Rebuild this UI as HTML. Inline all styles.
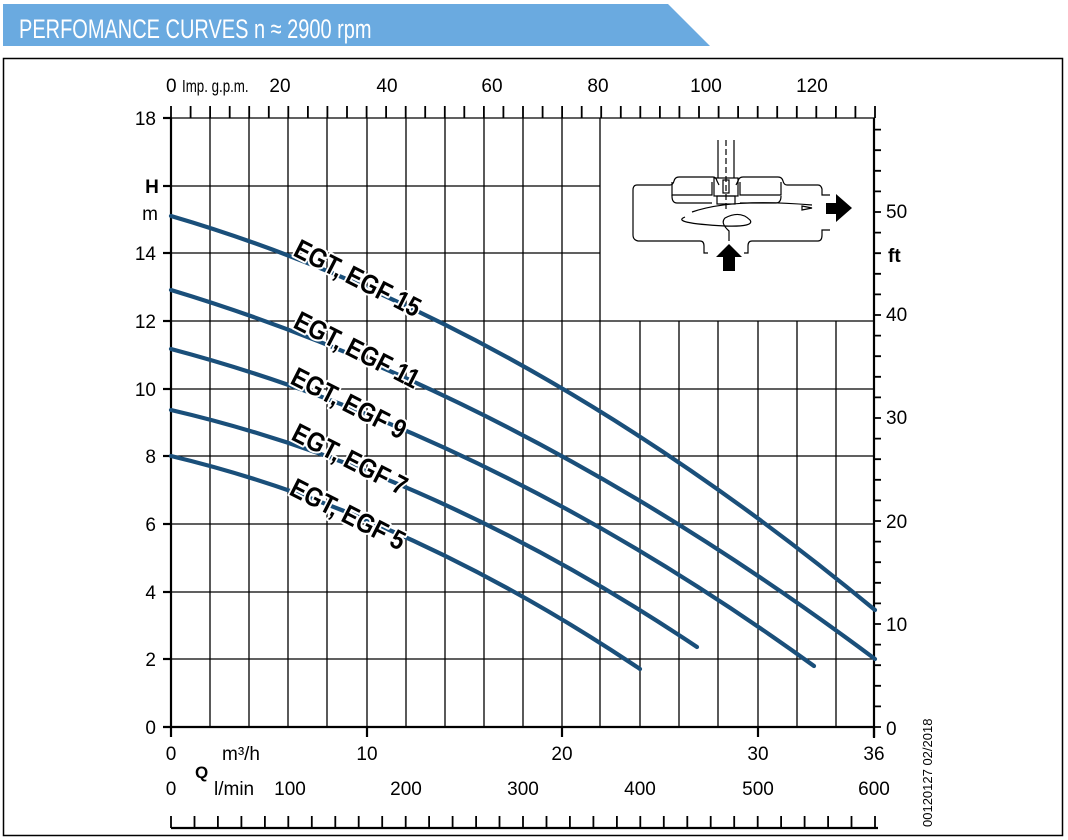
<!DOCTYPE html>
<html><head><meta charset="utf-8"><style>
html,body{margin:0;padding:0;background:#fff;}
svg{display:block;}
text{font-family:"Liberation Sans",sans-serif;}
</style></head><body>
<svg width="1068" height="840" viewBox="0 0 1068 840" xmlns="http://www.w3.org/2000/svg">
<polygon points="3,4 668,4 710,46 3,46" fill="#6aaae0"/>
<text x="0" y="0" font-size="27" fill="#fff" transform="translate(19,38) scale(0.74,1)">PERFOMANCE CURVES n ≈ 2900 rpm</text>
<rect x="3.5" y="58.5" width="1059" height="777" fill="none" stroke="#000" stroke-width="1.5"/>
<g stroke="#000" stroke-width="1.3" fill="none">
<line x1="171" y1="118" x2="875" y2="118"/>
<line x1="171" y1="186" x2="600" y2="186"/>
<line x1="171" y1="253" x2="600" y2="253"/>
<line x1="171" y1="321" x2="875" y2="321"/>
<line x1="171" y1="389" x2="875" y2="389"/>
<line x1="171" y1="456" x2="875" y2="456"/>
<line x1="171" y1="524" x2="875" y2="524"/>
<line x1="171" y1="592" x2="875" y2="592"/>
<line x1="171" y1="659" x2="875" y2="659"/>
<line x1="210" y1="118" x2="210" y2="727"/>
<line x1="249" y1="118" x2="249" y2="727"/>
<line x1="288" y1="118" x2="288" y2="727"/>
<line x1="327" y1="118" x2="327" y2="727"/>
<line x1="367" y1="118" x2="367" y2="727"/>
<line x1="406" y1="118" x2="406" y2="727"/>
<line x1="445" y1="118" x2="445" y2="727"/>
<line x1="484" y1="118" x2="484" y2="727"/>
<line x1="523" y1="118" x2="523" y2="727"/>
<line x1="562" y1="118" x2="562" y2="727"/>
<line x1="600" y1="118" x2="600" y2="727"/>
<line x1="640" y1="321" x2="640" y2="727"/>
<line x1="679" y1="321" x2="679" y2="727"/>
<line x1="718" y1="321" x2="718" y2="727"/>
<line x1="758" y1="321" x2="758" y2="727"/>
<line x1="797" y1="321" x2="797" y2="727"/>
<line x1="836" y1="321" x2="836" y2="727"/>
</g>
<g stroke="#000" stroke-width="2.2" fill="none">
<line x1="171" y1="118" x2="171" y2="728"/>
<line x1="874" y1="118" x2="874" y2="738"/>
<line x1="163" y1="727" x2="875" y2="727"/>
<line x1="163" y1="118" x2="171" y2="118"/>
<line x1="163" y1="186" x2="171" y2="186"/>
<line x1="163" y1="253" x2="171" y2="253"/>
<line x1="163" y1="321" x2="171" y2="321"/>
<line x1="163" y1="389" x2="171" y2="389"/>
<line x1="163" y1="456" x2="171" y2="456"/>
<line x1="163" y1="524" x2="171" y2="524"/>
<line x1="163" y1="592" x2="171" y2="592"/>
<line x1="163" y1="659" x2="171" y2="659"/>
<line x1="171" y1="727" x2="171" y2="737"/>
<line x1="367" y1="727" x2="367" y2="737"/>
<line x1="562" y1="727" x2="562" y2="737"/>
<line x1="758" y1="727" x2="758" y2="737"/>
<line x1="874" y1="727" x2="874" y2="737"/>
<line x1="171" y1="828" x2="878" y2="828"/>
</g>
<g stroke="#000" stroke-width="1.8">
<path d="M171 118v-12M190.6 118v-12M210.1 118v-12M229.7 118v-12M249.2 118v-12M268.8 118v-12M288.3 118v-12M307.9 118v-12M327.4 118v-12M347 118v-12M366.6 118v-12M386.1 118v-12M405.7 118v-12M425.2 118v-12M444.8 118v-12M464.3 118v-12M483.9 118v-12M503.4 118v-12M523 118v-12M542.6 118v-12M562.1 118v-12M581.7 118v-12M601.2 118v-12M620.8 118v-12M640.3 118v-12M659.9 118v-12M679.4 118v-12M699 118v-12M718.6 118v-12M738.1 118v-12M757.7 118v-12M777.2 118v-12M796.8 118v-12M816.3 118v-12M835.9 118v-12M855.4 118v-12M875 118v-12"/>
<path d="M874 727h7M874 706.4h7M874 685.8h7M874 665.2h7M874 644.6h7M874 624h7M874 603.4h7M874 582.8h7M874 562.2h7M874 541.6h7M874 521h7M874 500.4h7M874 479.8h7M874 459.2h7M874 438.6h7M874 418h7M874 397.4h7M874 376.8h7M874 356.2h7M874 335.6h7M874 315h7M874 294.4h7M874 273.8h7M874 253.2h7M874 232.6h7M874 212h7M874 191.4h7M874 170.8h7M874 150.2h7M874 129.6h7"/>
<path d="M171 828v-12M194.5 828v-12M217.9 828v-12M241.4 828v-12M264.9 828v-12M288.3 828v-12M311.8 828v-12M335.3 828v-12M358.7 828v-12M382.2 828v-12M405.7 828v-12M429.1 828v-12M452.6 828v-12M476.1 828v-12M499.5 828v-12M523 828v-12M546.5 828v-12M569.9 828v-12M593.4 828v-12M616.9 828v-12M640.3 828v-12M663.8 828v-12M687.3 828v-12M710.7 828v-12M734.2 828v-12M757.7 828v-12M781.1 828v-12M804.6 828v-12M828.1 828v-12M851.5 828v-12M875 828v-12"/>
</g>
<g font-size="19" fill="#000">
<text x="156" y="125" text-anchor="end">18</text>
<text x="156" y="260" text-anchor="end">14</text>
<text x="156" y="328" text-anchor="end">12</text>
<text x="156" y="396" text-anchor="end">10</text>
<text x="156" y="463" text-anchor="end">8</text>
<text x="156" y="531" text-anchor="end">6</text>
<text x="156" y="599" text-anchor="end">4</text>
<text x="156" y="666" text-anchor="end">2</text>
<text x="156" y="734" text-anchor="end">0</text>
<text x="152" y="193" text-anchor="middle" font-weight="bold">H</text>
<text x="150" y="220" text-anchor="middle">m</text>
<text x="886" y="218">50</text>
<text x="886" y="321">40</text>
<text x="886" y="424">30</text>
<text x="886" y="528">20</text>
<text x="886" y="631">10</text>
<text x="886" y="735">0</text>
<text x="888" y="262" font-weight="bold">ft</text>
<text x="166" y="92">0</text>
<text x="0" y="0" font-size="18" transform="translate(182,92) scale(0.74,1)">Imp. g.p.m.</text>
<text x="280" y="92" text-anchor="middle">20</text>
<text x="387" y="92" text-anchor="middle">40</text>
<text x="492" y="92" text-anchor="middle">60</text>
<text x="598" y="92" text-anchor="middle">80</text>
<text x="706" y="92" text-anchor="middle">100</text>
<text x="812" y="92" text-anchor="middle">120</text>
<text x="171" y="760" text-anchor="middle">0</text>
<text x="222" y="760">m³/h</text>
<text x="367" y="760" text-anchor="middle">10</text>
<text x="562" y="760" text-anchor="middle">20</text>
<text x="758" y="760" text-anchor="middle">30</text>
<text x="874" y="760" text-anchor="middle">36</text>
<text x="195" y="778" font-weight="bold" font-size="17">Q</text>
<text x="171" y="795" text-anchor="middle">0</text>
<text x="214" y="795">l/min</text>
<text x="290" y="795" text-anchor="middle">100</text>
<text x="406" y="795" text-anchor="middle">200</text>
<text x="523" y="795" text-anchor="middle">300</text>
<text x="640" y="795" text-anchor="middle">400</text>
<text x="758" y="795" text-anchor="middle">500</text>
<text x="874" y="795" text-anchor="middle">600</text>
<text x="0" y="0" font-size="13" transform="translate(932,827) rotate(-90)">00120127 02/2018</text>
</g>
<g stroke="#000" stroke-width="1.2" fill="none">
<path d="M718 140V178M734 140V178"/>
<path d="M726 140V210" stroke-dasharray="6,3"/>
<path d="M637 185H670q3 0 4-4q1-4 5-4H713q3 0 4 4l2 4M736 185l2-4q1-4 5-4H778q4 0 5 4q1 4 4 4H818q3 0 4 4V195H830M637 185q-4 0-4 5V235q0 5 5 6H700q4 0 4 5v7h4M744 253h4v-7q0-5 4-5H818q4 0 4-6V230H830"/>
<path d="M672 182V195H712V182M740 182V195H781V182"/>
<path d="M672 195V196q0 7 5 7H712M740 203H776q5 0 5-7"/>
<rect x="714" y="178" width="24" height="18"/>
<rect x="723" y="180" width="6" height="13"/>
<rect x="717" y="196" width="18" height="8"/>
<path d="M692 212q40-14 120-7M685 217q-15 6 40 9q30 1 25-6q-10-10-25-2q-5 5 4 13v10"/>
<polygon points="802,206 812,208 802,210"/>
</g>
<polygon points="826,203 836,203 836,194 852,208 836,222 836,214 826,214" fill="#000"/>
<polygon points="716,257 729,244 742,257 735,257 735,271 723,271 723,257" fill="#000"/>
<g stroke="#1a4f7a" stroke-width="4.2" fill="none" stroke-linecap="round">
<path d="M171,216 Q523,319 875,610"/>
<path d="M171,290 Q523,396 875,659"/>
<path d="M171,349 Q493,434 814,666"/>
<path d="M171,410 Q434,471 697,647"/>
<path d="M171,456 Q406,512 640,669"/>
</g>
<g font-size="27" font-weight="bold" fill="#000" stroke="#fff" stroke-width="4" paint-order="stroke" stroke-linejoin="round">
<text transform="translate(292,255) rotate(27) scale(0.86,1)">EGT, EGF 15</text>
<text transform="translate(292,327) rotate(27) scale(0.86,1)">EGT, EGF 11</text>
<text transform="translate(289,383) rotate(27) scale(0.86,1)">EGT, EGF 9</text>
<text transform="translate(290,439) rotate(27) scale(0.86,1)">EGT, EGF 7</text>
<text transform="translate(288,494) rotate(27) scale(0.86,1)">EGT, EGF 5</text>
</g>
</svg>
</body></html>
